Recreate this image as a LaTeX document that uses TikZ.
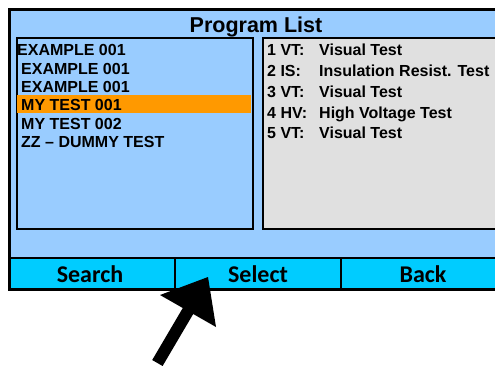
\documentclass[tikz,border=0pt]{standalone}
\usepackage{fontspec}
\setmainfont{Liberation Sans}
\newfontfamily\btnfont{Carlito}
\definecolor{scrblue}{HTML}{99CCFF}
\definecolor{btncyan}{HTML}{00CCFF}
\definecolor{hilite}{HTML}{FF9900}
\definecolor{panelgray}{HTML}{E0E0E0}
\begin{document}
\begin{tikzpicture}[x=1pt,y=-1pt,
  listtxt/.style={anchor=base west,inner sep=0pt,font=\fontsize{16}{16}\selectfont\bfseries},
  btntxt/.style={anchor=base,inner sep=0pt,font=\fontsize{24}{24}\selectfont\btnfont\bfseries},
  panel/.style={draw=black,line width=2.2pt}]
\useasboundingbox (0,0) rectangle (495,365);
% screen
\fill[scrblue] (8,8) rectangle (505,258);
\fill[btncyan] (8,258) rectangle (505,288);
\node[draw=black,line width=3pt,inner sep=0pt,minimum width=497pt,minimum height=280pt,anchor=north west] (screen) at (8,8) {};
\draw[line width=2.2pt] (8,258) -- (505,258);
\draw[line width=2pt] (175,258) -- (175,288);
\draw[line width=2pt] (341,258) -- (341,288);
% title
\node[anchor=base,inner sep=0pt,font=\fontsize{21.5}{21.5}\selectfont\bfseries] (title) at (256,32) {Program List};
% panels
\node[panel,inner sep=0pt,minimum width=236pt,minimum height=191pt,anchor=north west] (left) at (16,37) {};
\node[panel,fill=panelgray,inner sep=0pt,minimum width=243pt,minimum height=191pt,anchor=north west] (right) at (262,37) {};
\fill[hilite] (17.2,95) rectangle (250.8,113);
% left list
\node[listtxt] (l1) at (17,55) {EXAMPLE 001};
\node[listtxt] (l2) at (21,74) {EXAMPLE 001};
\node[listtxt] (l3) at (21,92) {EXAMPLE 001};
\node[listtxt] (l4) at (21,110) {MY TEST 001};
\node[listtxt] (l5) at (21,129) {MY TEST 002};
\node[listtxt] (l6) at (21,147) {ZZ – DUMMY TEST};
% right list
\node[listtxt] (c1) at (267,55) {1 VT:};
\node[listtxt] (c2) at (267,76) {2 IS:};
\node[listtxt] (c3) at (267,97) {3 VT:};
\node[listtxt] (c4) at (267,118) {4 HV:};
\node[listtxt] (c5) at (267,138.5) {5 VT:};
\node[listtxt] (d1) at (319,55) {Visual Test};
\node[listtxt] (d2) at (319,76) {Insulation Resist. Test};
\node[listtxt] (d3) at (319,97) {Visual Test};
\node[listtxt] (d4) at (319,118) {High Voltage Test};
\node[listtxt] (d5) at (319,138.5) {Visual Test};
% buttons
\node[btntxt] (search) at (90,282) {Search};
\node[btntxt] (select) at (258,282) {Select};
\node[btntxt] (back) at (423,282) {Back};
% arrow
\coordinate (tip) at (208,277);
\fill[black] (tip) -- (216,327) -- (193.2,314) -- (162.6,366) -- (152.2,360) -- (182.8,308) -- (160,295) -- cycle;
\end{tikzpicture}
\end{document}
